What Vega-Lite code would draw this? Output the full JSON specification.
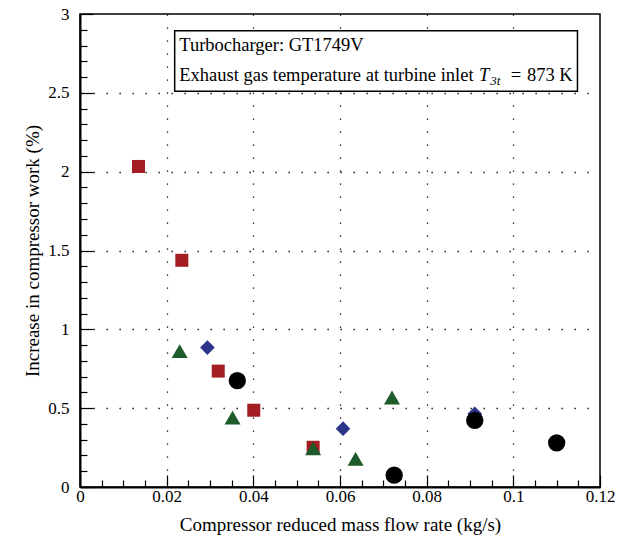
{
  "$schema": "https://vega.github.io/schema/vega-lite/v6.json",
  "width": 520,
  "height": 473,
  "autosize": {"type": "none"},
  "padding": {"left": 80, "top": 14, "right": 40, "bottom": 56},
  "background": "white",
  "config": {
    "font": "Liberation Serif",
    "view": {"stroke": "black", "strokeWidth": 1.5},
    "axis": {
      "domainColor": "black",
      "domainWidth": 2,
      "tickColor": "black",
      "tickWidth": 1.2,
      "gridColor": "black",
      "gridWidth": 1.3,
      "gridDash": [1.3, 11.7]
    },
    "text": {"font": "Liberation Serif", "fontSize": 18.5, "color": "black", "baseline": "alphabetic"}
  },
  "datasets": {
    "measurements": [
      {"set": "A", "flow": 0.0135, "increase": 2.033},
      {"set": "A", "flow": 0.0235, "increase": 1.438},
      {"set": "A", "flow": 0.0319, "increase": 0.735},
      {"set": "A", "flow": 0.0401, "increase": 0.487},
      {"set": "A", "flow": 0.0538, "increase": 0.252},
      {"set": "B", "flow": 0.0294, "increase": 0.884},
      {"set": "B", "flow": 0.0607, "increase": 0.37},
      {"set": "B", "flow": 0.0911, "increase": 0.465},
      {"set": "C", "flow": 0.023, "increase": 0.862},
      {"set": "C", "flow": 0.0352, "increase": 0.44},
      {"set": "C", "flow": 0.0538, "increase": 0.245},
      {"set": "C", "flow": 0.0636, "increase": 0.178},
      {"set": "C", "flow": 0.072, "increase": 0.568},
      {"set": "D", "flow": 0.0363, "increase": 0.675},
      {"set": "D", "flow": 0.0725, "increase": 0.075},
      {"set": "D", "flow": 0.0911, "increase": 0.422},
      {"set": "D", "flow": 0.110, "increase": 0.28}
    ],
    "noteBox": [
      {"flow": 0.02185, "flowEnd": 0.1148, "increase": 2.894, "increaseEnd": 2.51}
    ],
    "noteLines": [
      {"flow": 0.0229, "increase": 2.763, "note": "Turbocharger: GT1749V"},
      {"flow": 0.0229, "increase": 2.572, "note": "Exhaust gas temperature at turbine inlet"},
      {"flow": 0.0994, "increase": 2.572, "note": "="}
    ],
    "noteSymbol": [
      {"flow": 0.0921, "increase": 2.572, "note": "T"}
    ],
    "noteSubscript": [
      {"flow": 0.0947, "increase": 2.572, "note": "3t"}
    ],
    "noteValue": [
      {"flow": 0.1137, "increase": 2.572, "note": "873 K"}
    ]
  },
  "encoding": {
    "x": {
      "field": "flow",
      "type": "quantitative",
      "scale": {"domain": [0, 0.12], "nice": false, "zero": false},
      "axis": {
        "title": "Compressor reduced mass flow rate (kg/s)",
        "titleFont": "Liberation Serif",
        "titleFontSize": 19,
        "titleFontWeight": "normal",
        "titleColor": "black",
        "labelFont": "Liberation Serif",
        "labelFontSize": 17,
        "labelColor": "black",
        "values": [0, 0.005, 0.01, 0.015, 0.02, 0.025, 0.03, 0.035, 0.04, 0.045, 0.05, 0.055, 0.06, 0.065, 0.07, 0.075, 0.08, 0.085, 0.09, 0.095, 0.1, 0.105, 0.11, 0.115, 0.12],
        "labelExpr": "abs(datum.value*50 - round(datum.value*50)) < 0.001 ? format(datum.value, '~g') : ''",
        "tickSize": {"condition": {"test": "abs(datum.value*50 - round(datum.value*50)) < 0.001", "value": -12}, "value": -7},
        "labelPadding": 13,
        "titlePadding": 6,
        "grid": true,
        "gridOpacity": {"condition": {"test": "abs(datum.value*50 - round(datum.value*50)) < 0.001 && datum.value > 0.001 && datum.value < 0.119", "value": 1}, "value": 0},
        "labelFlush": false,
        "labelOverlap": false
      }
    },
    "y": {
      "field": "increase",
      "type": "quantitative",
      "scale": {"domain": [0, 3], "nice": false},
      "axis": {
        "title": "Increase in compressor work (%)",
        "titleFont": "Liberation Serif",
        "titleFontSize": 19,
        "titleFontWeight": "normal",
        "titleColor": "black",
        "labelFont": "Liberation Serif",
        "labelFontSize": 17,
        "labelColor": "black",
        "values": [0, 0.1, 0.2, 0.3, 0.4, 0.5, 0.6, 0.7, 0.8, 0.9, 1, 1.1, 1.2, 1.3, 1.4, 1.5, 1.6, 1.7, 1.8, 1.9, 2, 2.1, 2.2, 2.3, 2.4, 2.5, 2.6, 2.7, 2.8, 2.9, 3],
        "labelExpr": "abs(datum.value*2 - round(datum.value*2)) < 0.001 ? format(datum.value, '~g') : ''",
        "tickSize": {"condition": {"test": "abs(datum.value*2 - round(datum.value*2)) < 0.001", "value": -13}, "value": -7},
        "labelPadding": 24,
        "titlePadding": 5,
        "grid": true,
        "gridOpacity": {"condition": {"test": "abs(datum.value*2 - round(datum.value*2)) < 0.001 && datum.value > 0.001 && datum.value < 2.99", "value": 1}, "value": 0},
        "labelFlush": false,
        "labelOverlap": false
      }
    }
  },
  "layer": [
    {
      "data": {"name": "measurements"},
      "mark": {"type": "point", "filled": true, "opacity": 1, "strokeWidth": 0},
      "encoding": {
        "shape": {
          "field": "set",
          "type": "nominal",
          "scale": {"domain": ["A", "B", "C", "D"], "range": ["square", "diamond", "triangle-up", "circle"]},
          "legend": null
        },
        "color": {
          "field": "set",
          "type": "nominal",
          "scale": {"domain": ["A", "B", "C", "D"], "range": ["#A31D22", "#2B3489", "#1E5B2B", "#000000"]},
          "legend": null
        },
        "size": {
          "field": "set",
          "type": "nominal",
          "scale": {"domain": ["A", "B", "C", "D"], "range": [169, 300, 210, 280]},
          "legend": null
        }
      }
    },
    {
      "data": {"name": "noteBox"},
      "mark": {"type": "rect", "fill": "white", "stroke": "black", "strokeWidth": 1.5},
      "encoding": {
        "x2": {"field": "flowEnd"},
        "y2": {"field": "increaseEnd"}
      }
    },
    {
      "data": {"name": "noteLines"},
      "mark": {"type": "text", "align": "left"},
      "encoding": {"text": {"field": "note"}}
    },
    {
      "data": {"name": "noteSymbol"},
      "mark": {"type": "text", "align": "left", "fontStyle": "italic"},
      "encoding": {"text": {"field": "note"}}
    },
    {
      "data": {"name": "noteSubscript"},
      "mark": {"type": "text", "align": "left", "fontStyle": "italic", "fontSize": 13, "dy": 4},
      "encoding": {"text": {"field": "note"}}
    },
    {
      "data": {"name": "noteValue"},
      "mark": {"type": "text", "align": "right"},
      "encoding": {"text": {"field": "note"}}
    }
  ]
}
